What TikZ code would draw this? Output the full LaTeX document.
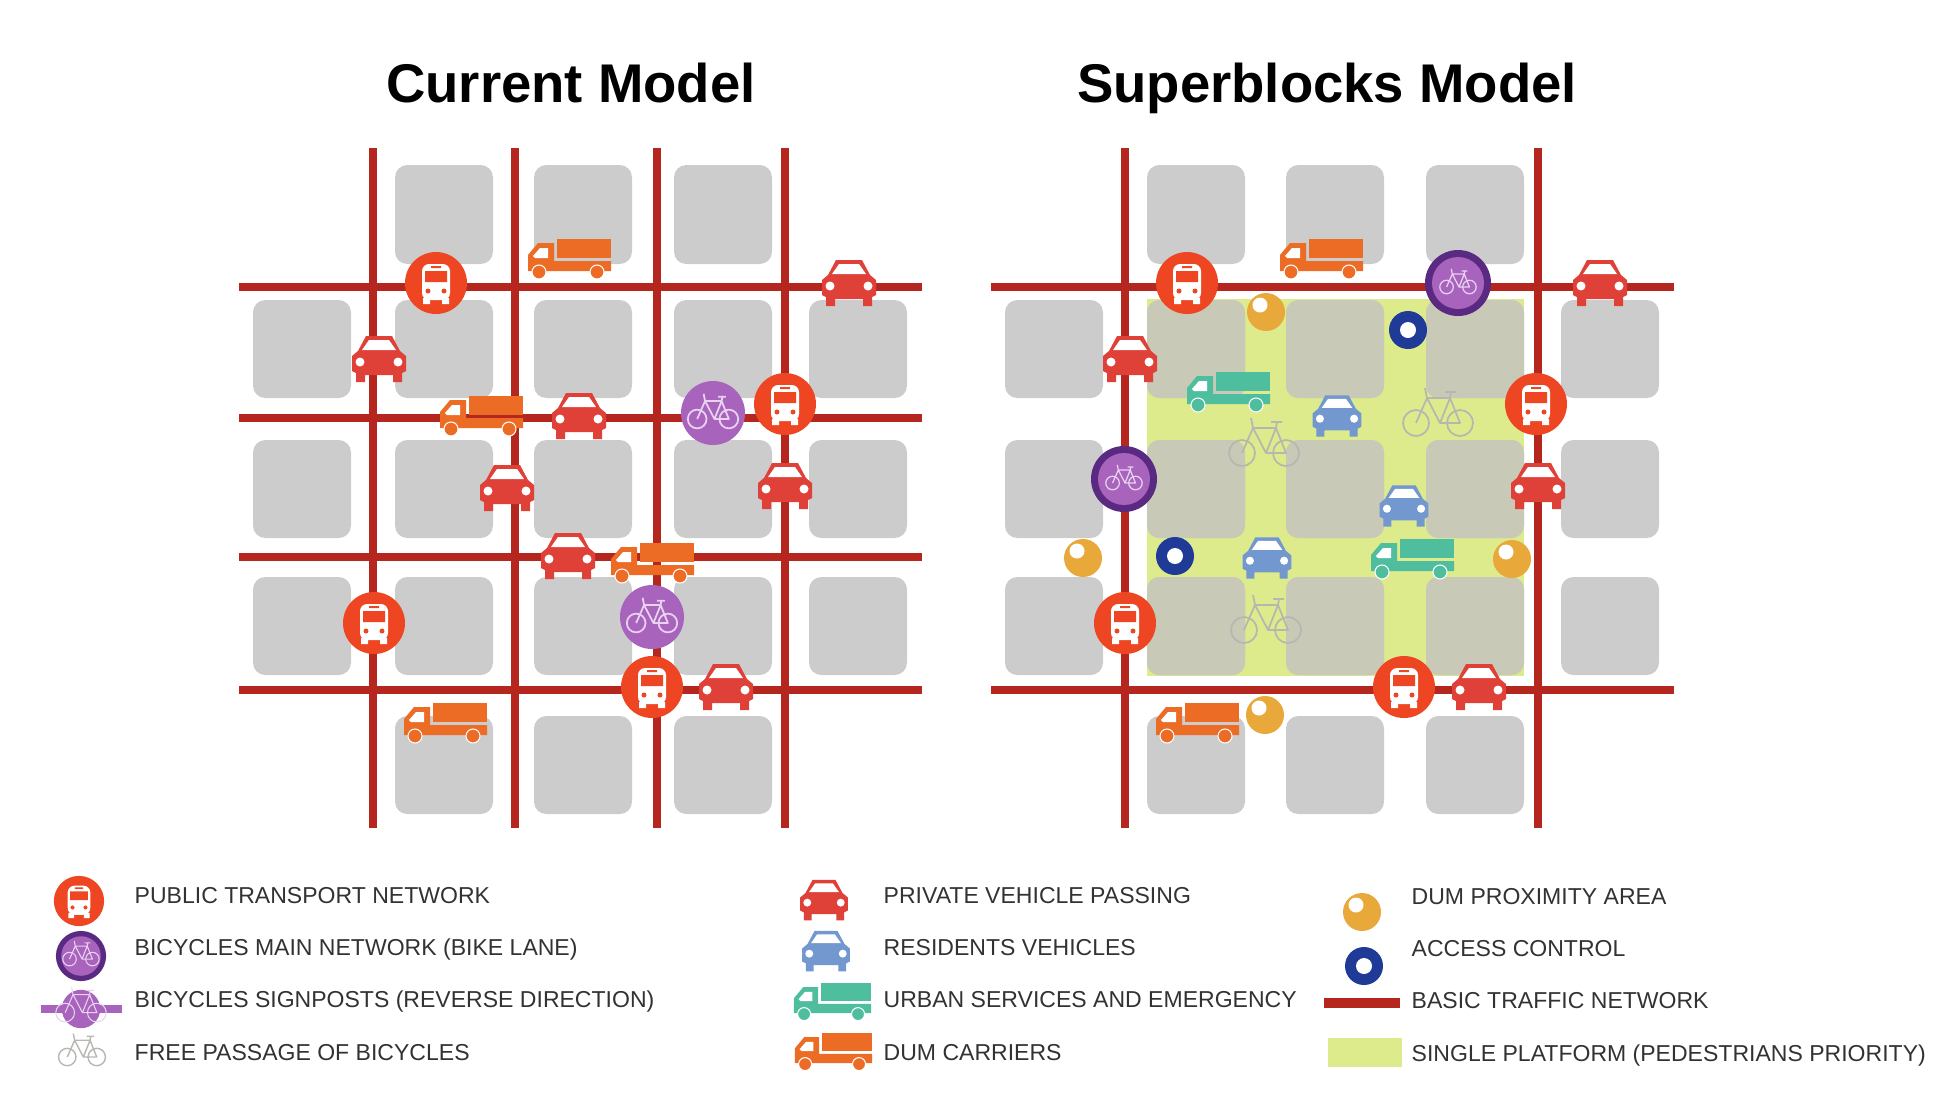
\documentclass[tikz,border=0pt]{standalone}
\usepackage{fontspec}
\setmainfont{Liberation Sans}
\usepackage{xcolor}
\usepackage{tikz}
\definecolor{blockgray}{RGB}{204,204,204}
\definecolor{blocktint}{RGB}{201,201,183}
\definecolor{platgreen}{RGB}{221,235,140}
\definecolor{roadred}{RGB}{181,38,30}
\definecolor{busred}{RGB}{238,70,34}
\definecolor{carred}{RGB}{223,64,56}
\definecolor{carblue}{RGB}{114,152,207}
\definecolor{truckorange}{RGB}{236,107,37}
\definecolor{truckteal}{RGB}{79,190,159}
\definecolor{purplelight}{RGB}{168,100,188}
\definecolor{purpledark}{RGB}{90,42,130}
\definecolor{bikelilac}{RGB}{232,210,240}
\definecolor{bikegray}{RGB}{183,183,178}
\definecolor{ballorange}{RGB}{233,168,58}
\definecolor{ringblue}{RGB}{31,58,151}
\definecolor{labelgray}{RGB}{50,50,50}

\begin{document}
\begin{tikzpicture}[
    x=0.01cm, y=-0.01cm,
    block/.style={fill=blockgray, rounded corners=3.5pt},
    road/.style={draw=roadred, line width=2.3pt},
    title/.style={anchor=base, font=\bfseries\fontsize{15.5}{18}\selectfont, text=black},
    legendtext/.style={anchor=base west, inner sep=0pt, text=labelgray, font=\fontsize{6.55}{8}\selectfont},
    bikeline/.style={line width=.5pt},
    car/.pic={
        \fill[#1] (-13,-23) -- (13,-23) -- (21,-8) -- (27,-3) -- (27,12) -- (23,14) -- (23,23) -- (14,23) -- (14,16) -- (-14,16) -- (-14,23) -- (-23,23) -- (-23,14) -- (-27,12) -- (-27,-3) -- (-21,-8) -- cycle;
        \fill[white] (-10,-19) -- (10,-19) -- (17,-9) -- (-17,-9) -- cycle;
        \fill[white] (-19,3) circle (4.5) (19,3) circle (4.5);
    },
    truck/.pic={
        \fill[#1] (-12,-20) rectangle (42,-1);
        \fill[#1] (-41,12) -- (-41,-4) -- (-31,-16) -- (-15,-16) -- (-15,2) -- (42,2) -- (42,12) -- cycle;
        \fill[white] (-36,-3) -- (-29,-11) -- (-21,-11) -- (-21,-1) -- (-34,-1) -- cycle;
        \fill[#1, draw=white, line width=.3pt] (-30,13) circle (7) (28,13) circle (7);
    },
    bike/.pic={
        \draw[#1, bikeline, line join=round] (-22,0) circle (13) (22,0) circle (13);
        \draw[#1, bikeline, line join=round] (-22,0) -- (-11,-25) -- (12,-25) -- (22,0) -- (2,0) -- (-11,-25) (2,0) -- (12,-25) -- (13,-31) (7,-31) -- (18,-31) (-11,-25) -- (-13,-35);
    },
    bus/.pic={
        \fill[busred] (0,0) circle (31);
        \fill[white, rounded corners=2pt] (-14,-19) rectangle (14,17);
        \fill[white] (-13,15) rectangle (-6,21) (6,15) rectangle (13,21);
        \fill[busred] (-11,-12) rectangle (11,-1) (-5,-17) rectangle (5,-15);
        \fill[busred] (-8,8) circle (2.5) (8,8) circle (2.5);
    },
    bikelight/.pic={
        \fill[purplelight] (0,0) circle (32);
        \pic[scale=.72] at (0,6) {bike=bikelilac};
    },
    bikedark/.pic={
        \fill[purpledark] (0,0) circle (33);
        \fill[purplelight] (0,0) circle (26);
        \pic[scale=.52] at (0,4) {bike=bikelilac};
    },
    ball/.pic={
        \fill[ballorange] (0,0) circle (19);
        \fill[white] (-6,-7) circle (7.5);
    },
    ringmark/.pic={
        \fill[ringblue] (0,0) circle (19);
        \fill[white] (0,0) circle (8);
    }
]
\useasboundingbox (0,0) rectangle (1954,1108);

% Titles
\node[title] (current) at (571,102) {Current Model};
\node[title] (superblocks) at (1327,102) {Superblocks Model};

% Platform
\fill[platgreen] (1147,299) rectangle (1524,676);

% Blocks
\foreach \dx in {0,752} {
    \foreach \x in {395,534,674} {
        \fill[block] (\x+\dx,165) rectangle ++(98,99);
        \fill[block] (\x+\dx,716) rectangle ++(98,98);
    }
    \foreach \y in {300,440,577} {
        \foreach \x in {253,395,534,674,809} {
            \fill[block] (\x+\dx,\y) rectangle ++(98,98);
        }
    }
}
\foreach \y in {300,440,577} {
    \foreach \x in {1147,1286,1426} {
        \fill[block, fill=blocktint] (\x,\y) rectangle ++(98,98);
    }
}

% Roads
\foreach \y in {287,418,557,690} {
    \draw[road] (239,\y) -- (922,\y);
}
\foreach \y in {287,690} {
    \draw[road] (991,\y) -- (1674,\y);
}
\foreach \x in {373,515,657,785,1125,1538} {
    \draw[road] (\x,148) -- (\x,828);
}

% Current model
\pic at (569,259) {truck=truckorange};
\pic at (481,416) {truck=truckorange};
\pic at (652,563) {truck=truckorange};
\pic at (445,723) {truck=truckorange};
\pic at (849,283) {car=carred};
\pic at (379,359) {car=carred};
\pic at (579,416) {car=carred};
\pic at (507,488) {car=carred};
\pic at (785,486) {car=carred};
\pic at (568,556) {car=carred};
\pic at (726,687) {car=carred};
\pic at (436,283) {bus};
\pic at (785,404) {bus};
\pic at (374,623) {bus};
\pic at (652,687) {bus};
\pic at (713,413) {bikelight};
\pic at (652,617) {bikelight};

% Superblocks model
\pic at (1321,259) {truck=truckorange};
\pic at (1197,723) {truck=truckorange};
\pic at (1228,392) {truck=truckteal};
\pic at (1412,559) {truck=truckteal};
\pic at (1600,283) {car=carred};
\pic at (1130,359) {car=carred};
\pic at (1538,486) {car=carred};
\pic at (1479,687) {car=carred};
\pic[scale=.9] at (1337,416) {car=carblue};
\pic[scale=.9] at (1404,506) {car=carblue};
\pic[scale=.9] at (1267,558) {car=carblue};
\pic at (1264,453) {bike=bikegray};
\pic at (1438,423) {bike=bikegray};
\pic at (1266,630) {bike=bikegray};
\pic at (1187,283) {bus};
\pic at (1536,404) {bus};
\pic at (1125,623) {bus};
\pic at (1404,687) {bus};
\pic[bikeline/.style={line width=.35pt}] at (1458,283) {bikedark};
\pic[bikeline/.style={line width=.35pt}] at (1124,479) {bikedark};
\pic at (1266,312) {ball};
\pic at (1512,559) {ball};
\pic at (1083,558) {ball};
\pic at (1265,715) {ball};
\pic at (1408,330) {ringmark};
\pic at (1175,556) {ringmark};

% Legend icons
\pic[scale=.81] at (79,901) {bus};
\pic[scale=.76, bikeline/.style={line width=.3pt}] at (81,956) {bikedark};
\draw[purplelight, line width=2.2pt] (41,1009) -- (122,1009);
\pic[scale=.6, bikeline/.style={line width=.3pt}] at (81,1009) {bikelight};
\pic[scale=.67, bikeline/.style={line width=.4pt}] at (82,1057) {bike=bikegray};
\pic[scale=.88] at (824,900) {car=carred};
\pic[scale=.88] at (826,951) {car=carblue};
\pic[scale=.93] at (832,1002) {truck=truckteal};
\pic[scale=.93] at (833,1052) {truck=truckorange};
\pic at (1362,912) {ball};
\pic at (1364,966) {ringmark};
\draw[roadred, line width=3pt] (1324,1003) -- (1400,1003);
\fill[platgreen] (1328,1038) rectangle (1402,1067);

% Legend labels
\node[legendtext] (transport) at (134,903) {PUBLIC TRANSPORT NETWORK};
\node[legendtext] (bikelane) at (134,955) {BICYCLES MAIN NETWORK (BIKE LANE)};
\node[legendtext] (signposts) at (134,1007) {BICYCLES SIGNPOSTS (REVERSE DIRECTION)};
\node[legendtext] (freebikes) at (134,1060) {FREE PASSAGE OF BICYCLES};
\node[legendtext] (private) at (883,903) {PRIVATE VEHICLE PASSING};
\node[legendtext] (residents) at (883,955) {RESIDENTS VEHICLES};
\node[legendtext] (urban) at (883,1007) {URBAN SERVICES AND EMERGENCY};
\node[legendtext] (carriers) at (883,1060) {DUM CARRIERS};
\node[legendtext] (proximity) at (1411,904) {DUM PROXIMITY AREA};
\node[legendtext] (access) at (1411,956) {ACCESS CONTROL};
\node[legendtext] (basic) at (1411,1008) {BASIC TRAFFIC NETWORK};
\node[legendtext] (platform) at (1411,1061) {SINGLE PLATFORM (PEDESTRIANS PRIORITY)};
\end{tikzpicture}
\end{document}
